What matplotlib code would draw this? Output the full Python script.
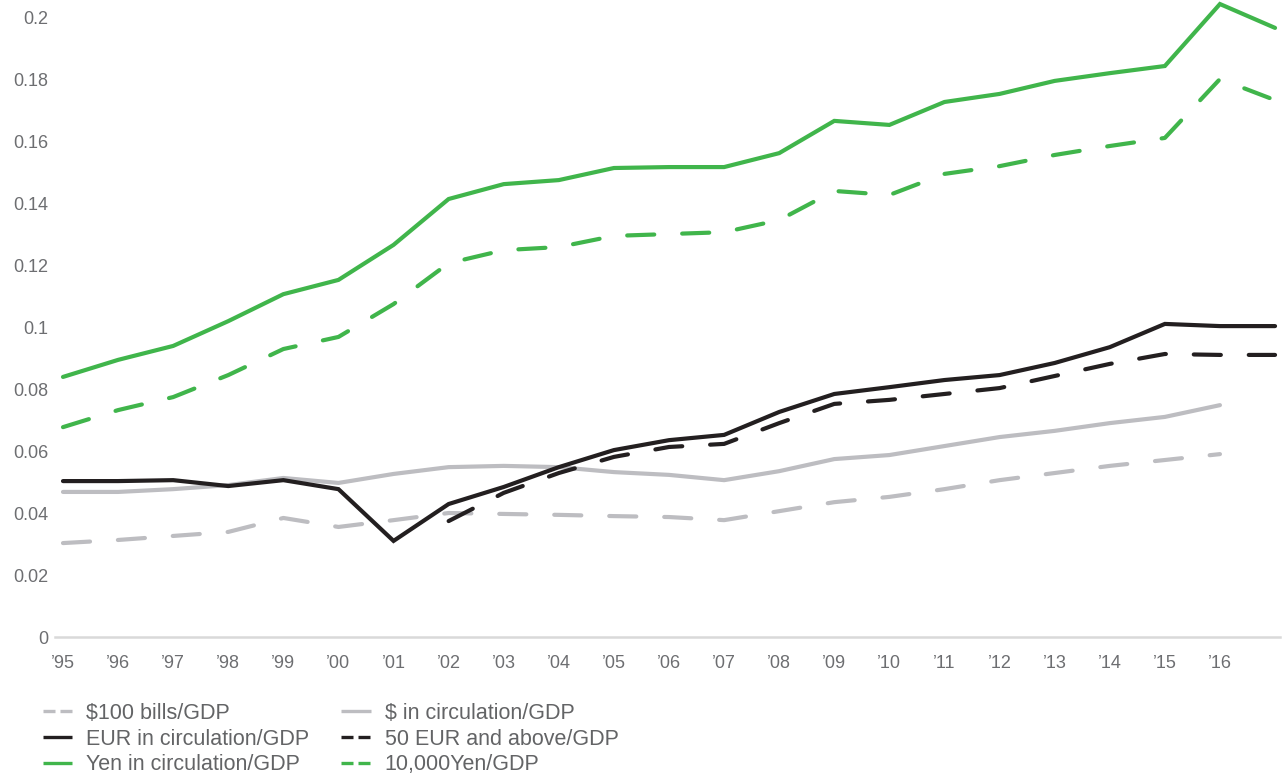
import matplotlib
matplotlib.use("Agg")
import matplotlib.pyplot as plt
from matplotlib.lines import Line2D
import numpy as np

plt.rcParams["font.family"] = ["Liberation Sans", "DejaVu Sans"]

# currency in circulation as a share of GDP
years = list(range(1995, 2018))
years_usd = list(range(1995, 2017))
years_eur50 = list(range(2002, 2018))

usd_100_bills = [0.0303, 0.0313, 0.0326, 0.0339, 0.0384, 0.0355, 0.0377, 0.0400,
                 0.0397, 0.0394, 0.0390, 0.0387, 0.0377, 0.0406, 0.0435, 0.0452,
                 0.0477, 0.0506, 0.0529, 0.0552, 0.0571, 0.0590]
usd_circulation = [0.0468, 0.0468, 0.0477, 0.0490, 0.0513, 0.0497, 0.0526, 0.0548,
                   0.0552, 0.0548, 0.0532, 0.0523, 0.0506, 0.0535, 0.0574, 0.0587,
                   0.0616, 0.0645, 0.0665, 0.0690, 0.0710, 0.0748]
eur_circulation = [0.0503, 0.0503, 0.0506, 0.0487, 0.0506, 0.0477, 0.0310, 0.0429,
                   0.0484, 0.0548, 0.0603, 0.0635, 0.0652, 0.0726, 0.0784, 0.0806,
                   0.0829, 0.0845, 0.0884, 0.0935, 0.1010, 0.1003, 0.1003]
eur_50_above = [0.0374, 0.0465, 0.0529, 0.0581, 0.0613, 0.0623, 0.0690, 0.0752,
                0.0765, 0.0784, 0.0803, 0.0842, 0.0881, 0.0913, 0.0910, 0.0910]
yen_circulation = [0.0839, 0.0894, 0.0939, 0.1019, 0.1106, 0.1152, 0.1265, 0.1413,
                   0.1461, 0.1474, 0.1513, 0.1516, 0.1516, 0.1561, 0.1665, 0.1652,
                   0.1726, 0.1752, 0.1794, 0.1819, 0.1842, 0.2042, 0.1965]
yen_10000 = [0.0677, 0.0732, 0.0774, 0.0845, 0.0929, 0.0968, 0.1074, 0.1206,
             0.1248, 0.1258, 0.1294, 0.1300, 0.1306, 0.1345, 0.1439, 0.1426,
             0.1494, 0.1519, 0.1555, 0.1584, 0.1610, 0.1800, 0.1732]

GREEN = "#40b54b"
BLACK = "#231f20"
GREY = "#bdbdc1"
TEXT = "#6d6e71"
DASH = (6.5, 6.7)

fig = plt.figure(figsize=(12.82, 7.78), dpi=100)
ax = fig.add_axes([55 / 1282, 141 / 778, 1225 / 1282, 637 / 778])

line_kw = dict(lw=3, solid_capstyle="round", dash_capstyle="round",
               solid_joinstyle="miter", clip_on=False)
ax.plot(years_usd, usd_100_bills, color=GREY, dashes=DASH, **line_kw)
ax.plot(years_usd, usd_circulation, color=GREY, **line_kw)
ax.plot(years_eur50, eur_50_above, color=BLACK, dashes=DASH, **line_kw)
ax.plot(years, eur_circulation, color=BLACK, **line_kw)
ax.plot(years, yen_10000, color=GREEN, dashes=DASH, **line_kw)
ax.plot(years, yen_circulation, color=GREEN, **line_kw)

ax.set_xlim(1994.855, 2017.09)
ax.set_ylim(0, 0.2055)

xticks = list(range(1995, 2017))
ax.set_xticks(xticks)
ax.set_xticklabels(["\u2019%02d" % (y % 100) for y in xticks])
yticks = np.arange(0, 0.21, 0.02)
ax.set_yticks(yticks)
ax.set_yticklabels(["%g" % round(v, 2) for v in yticks])
ax.tick_params(axis="x", length=0, pad=13, labelsize=13, labelcolor=TEXT)
ax.tick_params(axis="y", length=0, pad=5, labelsize=13, labelcolor=TEXT)

for side in ["top", "right", "left"]:
    ax.spines[side].set_visible(False)
ax.spines["bottom"].set_color("#d9d9d9")
ax.spines["bottom"].set_linewidth(1.8)

# legend with shorter dashes than the plotted lines
leg_kw = dict(lw=2.4, solid_capstyle="butt", dash_capstyle="butt")
LEG_DASH = (3.6, 1.5)
handles = [
    Line2D([], [], color=GREY, dashes=LEG_DASH, **leg_kw),
    Line2D([], [], color=BLACK, **leg_kw),
    Line2D([], [], color=GREEN, **leg_kw),
    Line2D([], [], color=GREY, **leg_kw),
    Line2D([], [], color=BLACK, dashes=LEG_DASH, **leg_kw),
    Line2D([], [], color=GREEN, dashes=LEG_DASH, **leg_kw),
]
labels = ["$100 bills/GDP", "EUR in circulation/GDP", "Yen in circulation/GDP",
          "$ in circulation/GDP", "50 EUR and above/GDP", "10,000Yen/GDP"]
leg = fig.legend(handles, labels, ncol=2, loc="upper left",
                 bbox_to_anchor=(43 / 1282, 1 - 703 / 778),
                 frameon=False, fontsize=15.5, borderpad=0, borderaxespad=0,
                 handlelength=1.35, handletextpad=0.65, labelspacing=0.21,
                 columnspacing=1.5)
for t in leg.get_texts():
    t.set_color("#636466")

fig.savefig("out.png", dpi=100)
